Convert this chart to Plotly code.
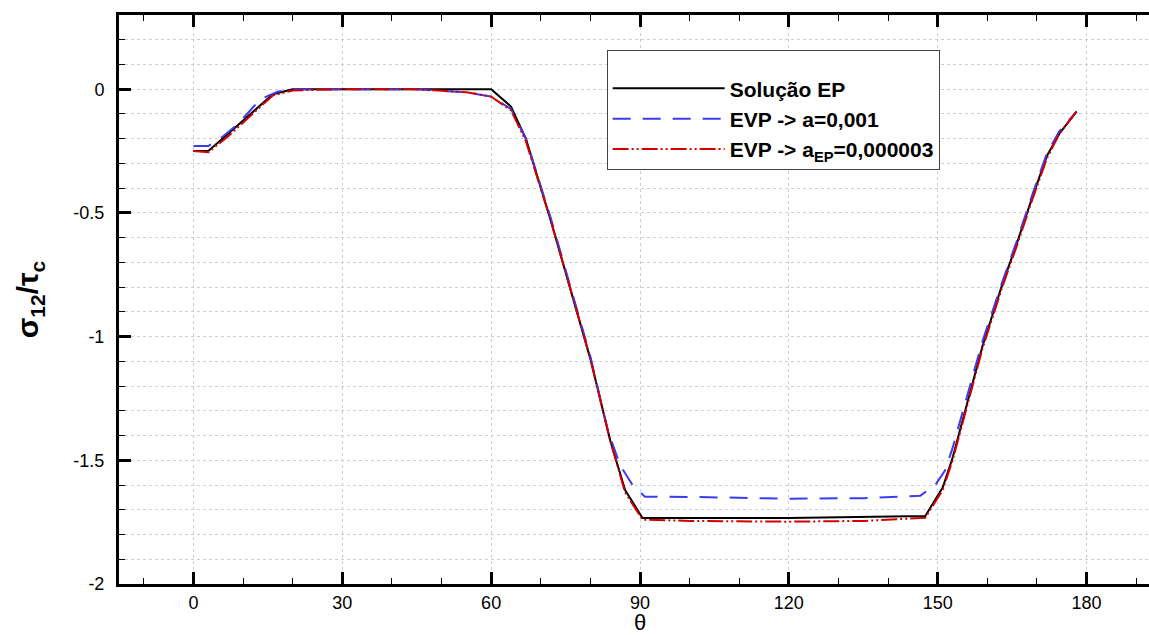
import plotly.graph_objects as go

# ---- data ----
theta_ep = [0, 3, 7, 12, 16, 20, 30, 45, 60, 64, 67, 72, 76, 80, 84, 87, 90.5, 120,
            147.5, 151, 153, 156, 159, 163, 166, 169, 172, 174.5, 178]
sol_ep = [-0.25, -0.25, -0.18, -0.09, -0.02, 0, 0, 0, 0, -0.07, -0.2, -0.53, -0.81, -1.09,
          -1.42, -1.62, -1.733, -1.733, -1.725, -1.61, -1.49, -1.26, -1.04, -0.79, -0.62,
          -0.44, -0.27, -0.18, -0.09]

theta_a = [0, 3, 6, 9, 13.5, 17, 20, 30, 45, 55, 60, 64, 67, 72, 76, 80, 83.5, 86, 88.5,
           91, 100, 120, 135, 146.5, 149.5, 151.5, 153, 156, 159, 163, 166, 169, 172,
           174.5, 178]
evp_a001 = [-0.23, -0.23, -0.19, -0.14, -0.04, -0.01, 0, 0, 0, -0.013, -0.03, -0.08, -0.2,
            -0.52, -0.80, -1.08, -1.38, -1.52, -1.60, -1.647, -1.648, -1.655, -1.653,
            -1.643, -1.60, -1.54, -1.45, -1.24, -1.02, -0.78, -0.61, -0.43, -0.26, -0.17,
            -0.09]

theta_b = [0, 3, 7, 12, 16, 20, 30, 45, 55, 60, 64, 67, 72, 76, 80, 84, 87, 90.5, 100, 120,
           135, 147.5, 151, 153, 156, 159, 163, 166, 169, 172, 174.5, 178]
evp_aep = [-0.25, -0.255, -0.19, -0.10, -0.025, -0.005, 0, 0, -0.012, -0.03, -0.085, -0.21,
           -0.53, -0.81, -1.09, -1.42, -1.63, -1.74, -1.745, -1.748, -1.745, -1.732, -1.62,
           -1.50, -1.27, -1.05, -0.80, -0.63, -0.45, -0.28, -0.18, -0.09]

series_names = ["Solução EP", "EVP -> a=0,001", "EVP -> a<sub>EP</sub>=0,000003"]

x_tickvals = [0, 30, 60, 90, 120, 150, 180]
x_ticktext = ["0", "30", "60", "90", "120", "150", "180"]
y_tickvals = [-2, -1.5, -1, -0.5, 0]
y_ticktext = ["-2", "-1.5", "-1", "-0.5", "0"]

FONT = "Liberation Sans, Arial, sans-serif"

fig = go.Figure()
fig.add_trace(go.Scatter(x=theta_ep, y=sol_ep, mode="lines", name=series_names[0],
                         line=dict(color="black", width=2)))
fig.add_trace(go.Scatter(x=theta_a, y=evp_a001, mode="lines", name=series_names[1],
                         line=dict(color="#3b3bf0", width=2, dash="18px,12px")))
fig.add_trace(go.Scatter(x=theta_b, y=evp_aep, mode="lines", name=series_names[2],
                         line=dict(color="#d40000", width=2,
                                   dash="16px,3px,2px,3px,2px,3px")))

axis_common = dict(
    showline=True, linecolor="black", linewidth=3,
    ticks="inside", ticklen=12, tickwidth=3, tickcolor="black",
    showgrid=True, gridcolor="#cfcfcf", griddash="dot", gridwidth=1,
    zeroline=False, tickfont=dict(family=FONT, size=18, color="black"),
    automargin=False,
)

fig.update_xaxes(
    **axis_common,
    range=[-15, 195], mirror="ticks",
    tickmode="array", tickvals=x_tickvals, ticktext=x_ticktext,
    ticklabelstandoff=0,
    minor=dict(tickmode="linear", tick0=0, dtick=10, ticks="inside", ticklen=6,
               tickwidth=1, tickcolor="black", showgrid=False),
    title=dict(text="θ", font=dict(family=FONT, size=22, color="black"), standoff=0),
)
fig.update_yaxes(
    **axis_common,
    range=[-2, 0.3], mirror="ticks",
    tickmode="array", tickvals=y_tickvals, ticktext=y_ticktext,
    ticklabelstandoff=8,
    minor=dict(tickmode="linear", tick0=0, dtick=0.1, ticks="inside", ticklen=6,
               tickwidth=1, tickcolor="black", showgrid=True, gridcolor="#cfcfcf",
               griddash="dot", gridwidth=1),
    title=dict(text="<b>σ<sub>12</sub>/τ<sub>c</sub></b>",
               font=dict(family=FONT, size=30, color="black"), standoff=26),
)

fig.update_layout(
    width=1161, height=635,
    margin=dict(l=119, r=0, t=15, b=51),
    plot_bgcolor="white", paper_bgcolor="white",
    showlegend=True,
    legend=dict(
        x=0.468, y=0.938, xanchor="left", yanchor="top",
        bgcolor="white", bordercolor="#444", borderwidth=1,
        font=dict(family=FONT, size=21, color="black", weight="bold"),
        itemwidth=112,
        title=dict(text=" ", font=dict(size=13)),
    ),
)

# The reference frame continues past the right edge of the picture: clip the page at 1149 px.
page_css = (
    "document.documentElement.style.margin='0';"
    "document.body.style.margin='0';"
    "document.documentElement.style.overflow='hidden';"
    "document.body.style.overflow='hidden';"
    "var gd=document.getElementById('{plot_id}');"
    "var box=gd.parentElement;"
    "box.style.width='1149px';box.style.height='635px';"
    "box.style.overflow='hidden';box.style.position='relative';"
)

fig.write_html("out.html", post_script=page_css, config={"displayModeBar": False})
